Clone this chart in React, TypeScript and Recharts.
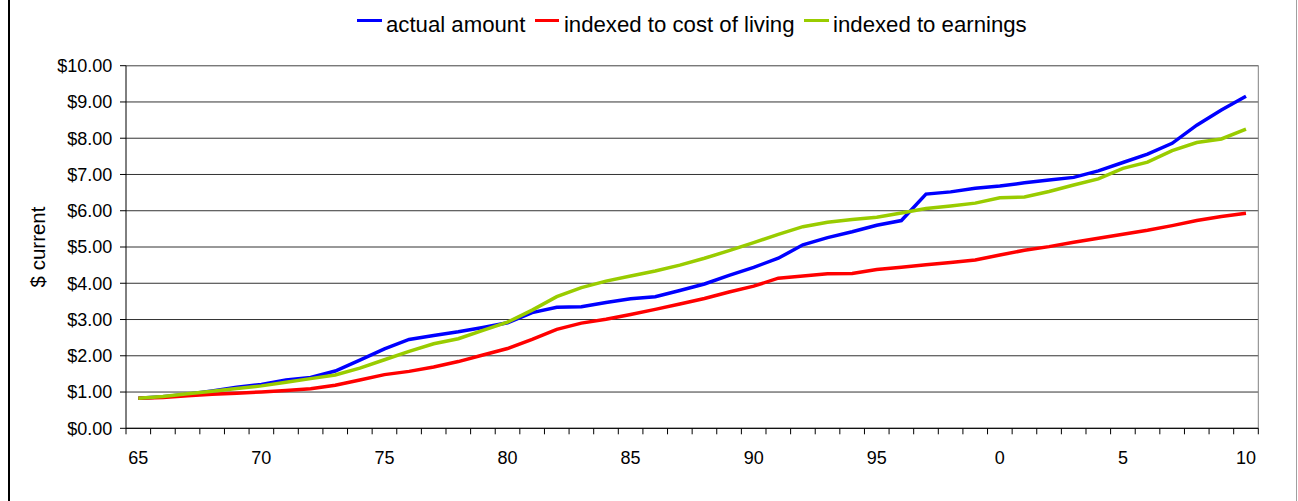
import React from 'react';
import { LineChart, Line, XAxis, YAxis, CartesianGrid, Legend, ReferenceLine } from 'recharts';

const years = [
  1965, 1966, 1967, 1968, 1969, 1970, 1971, 1972, 1973, 1974,
  1975, 1976, 1977, 1978, 1979, 1980, 1981, 1982, 1983, 1984,
  1985, 1986, 1987, 1988, 1989, 1990, 1991, 1992, 1993, 1994,
  1995, 1996, 1997, 1998, 1999, 2000, 2001, 2002, 2003, 2004,
  2005, 2006, 2007, 2008, 2009, 2010,
];

const actualAmount = [
  0.83, 0.87, 0.94, 1.03, 1.13, 1.21, 1.33, 1.40, 1.58, 1.88,
  2.19, 2.45, 2.56, 2.66, 2.78, 2.91, 3.19, 3.34, 3.35, 3.47,
  3.57, 3.63, 3.80, 3.98, 4.22, 4.44, 4.69, 5.06, 5.26, 5.42,
  5.60, 5.73, 6.46, 6.52, 6.62, 6.68, 6.77, 6.85, 6.92, 7.10,
  7.33, 7.56, 7.86, 8.36, 8.78, 9.16,
];

const costOfLiving = [
  0.83, 0.85, 0.90, 0.94, 0.97, 1.00, 1.04, 1.09, 1.19, 1.33,
  1.48, 1.57, 1.69, 1.84, 2.02, 2.20, 2.45, 2.73, 2.90, 3.01,
  3.14, 3.28, 3.43, 3.58, 3.76, 3.92, 4.14, 4.20, 4.26, 4.27,
  4.38, 4.44, 4.51, 4.57, 4.64, 4.78, 4.91, 5.01, 5.13, 5.24,
  5.35, 5.46, 5.59, 5.73, 5.84, 5.93,
];

const earnings = [
  0.83, 0.88, 0.95, 1.02, 1.10, 1.17, 1.27, 1.37, 1.47, 1.66,
  1.89, 2.12, 2.33, 2.47, 2.70, 2.93, 3.26, 3.63, 3.88, 4.06,
  4.20, 4.34, 4.50, 4.69, 4.90, 5.12, 5.35, 5.56, 5.68, 5.76,
  5.82, 5.94, 6.06, 6.13, 6.21, 6.36, 6.38, 6.53, 6.71, 6.88,
  7.17, 7.34, 7.66, 7.88, 7.98, 8.25,
];

const labelYears = [1965, 1970, 1975, 1980, 1985, 1990, 1995, 2000, 2005, 2010];
const labelTexts = ['65', '70', '75', '80', '85', '90', '95', '0', '5', '10'];
const yTicks = [0, 1, 2, 3, 4, 5, 6, 7, 8, 9, 10];

const seriesNames = ['actual amount', 'indexed to cost of living', 'indexed to earnings'];
const seriesColors = ['#0000FF', '#FF0000', '#99CC00'];
const yTitle = '$ current';

const data = years.map((year, i) => ({
  year,
  actual: actualAmount[i],
  col: costOfLiving[i],
  earn: earnings[i],
}));

const boundaryTicks = years.map((y) => y - 0.5).concat([years[years.length - 1] + 0.5]);
const xDomain = [years[0] - 0.5, years[years.length - 1] + 0.5];

const FONT = '"Liberation Sans", Arial, Helvetica, sans-serif';

const renderLegend = (props: any) => {
  const { payload } = props;
  return (
    <div style={{ display: 'flex', alignItems: 'flex-start', fontSize: 22.2, fontFamily: FONT, lineHeight: '25px', whiteSpace: 'nowrap', color: '#000' }}>
      {(payload || []).map((p: any, i: number) => (
        <div key={i} style={{ display: 'flex', alignItems: 'flex-start', marginRight: 9.5 }}>
          <div style={{ width: 24.5, height: 3.5, background: p.color, marginTop: 7.4, marginRight: 4.5 }} />
          <span>{p.value}</span>
        </div>
      ))}
    </div>
  );
};

const renderYTitle = (props: any) => {
  const vb = props.viewBox || { x: 0, y: 65.7, width: 126, height: 362.6 };
  const cx = vb.x + 37.3;
  const cy = vb.y + vb.height / 2;
  return (
    <text
      x={cx}
      y={cy}
      transform={`rotate(-90 ${cx} ${cy})`}
      textAnchor="middle"
      dominantBaseline="central"
      fontSize={20.5}
      fontFamily={FONT}
      fill="#000"
    >
      {yTitle}
    </text>
  );
};

export default function App() {
  return (
    <div style={{ position: 'absolute', left: 0, top: 0, width: 1298, height: 501, background: '#fff', fontFamily: FONT }}>
      <div style={{ position: 'absolute', left: 8, top: 0, width: 2, height: 501, background: '#000' }} />
      <div style={{ position: 'absolute', left: 1296, top: 0, width: 1, height: 501, background: '#a0a0a0' }} />
      <LineChart
        width={1298}
        height={501}
        data={data}
        margin={{ top: 65.7, right: 39.7, left: 0, bottom: 35.7 }}
        style={{ position: 'absolute', left: 0, top: 0 }}
      >
        <CartesianGrid vertical={false} stroke="#333" />
        <XAxis
          type="number"
          dataKey="year"
          domain={xDomain}
          ticks={boundaryTicks}
          interval={0}
          tickFormatter={() => ''}
          tickSize={6}
          height={7}
          axisLine={{ stroke: '#000' }}
          tickLine={{ stroke: '#000' }}
          allowDataOverflow
        />
        <XAxis
          xAxisId="lbl"
          type="number"
          dataKey="year"
          domain={xDomain}
          ticks={labelYears}
          interval={0}
          tickFormatter={(v: number) => labelTexts[labelYears.indexOf(v)] ?? ''}
          axisLine={false}
          tickLine={false}
          tickSize={0}
          tickMargin={16.4}
          height={30}
          tick={{ fill: '#000', fontSize: 18, fontFamily: FONT }}
          allowDataOverflow
        />
        <YAxis
          domain={[0, 10]}
          ticks={yTicks}
          interval={0}
          width={126}
          tickSize={6}
          tickMargin={7.7}
          tickFormatter={(v: number) => `$${v.toFixed(2)}`}
          axisLine={{ stroke: '#000' }}
          tickLine={{ stroke: '#000' }}
          tick={{ fill: '#000', fontSize: 18, fontFamily: FONT }}
          label={{ content: renderYTitle, position: 'center' }}
          allowDataOverflow
        />
        <ReferenceLine x={xDomain[1]} stroke="#808080" />
        <ReferenceLine y={10} stroke="#808080" />
        <Legend
          layout="vertical"
          align="center"
          verticalAlign="middle"
          content={renderLegend}
          wrapperStyle={{ left: 357, top: 11.6, width: 'auto', height: 'auto' }}
        />
        <Line type="linear" dataKey="actual" name={seriesNames[0]} stroke={seriesColors[0]} strokeWidth={3.5} dot={false} isAnimationActive={false} />
        <Line type="linear" dataKey="col" name={seriesNames[1]} stroke={seriesColors[1]} strokeWidth={3.5} dot={false} isAnimationActive={false} />
        <Line type="linear" dataKey="earn" name={seriesNames[2]} stroke={seriesColors[2]} strokeWidth={3.5} dot={false} isAnimationActive={false} />
      </LineChart>
    </div>
  );
}
